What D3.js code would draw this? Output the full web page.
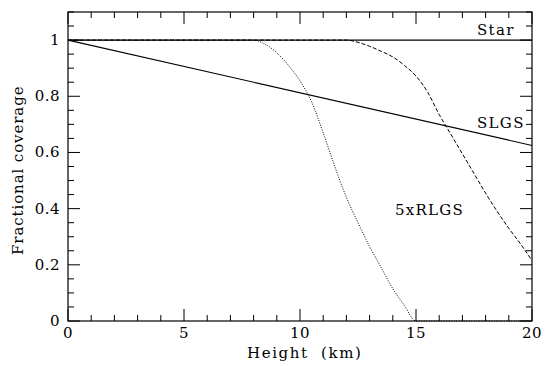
<!DOCTYPE html>
<html><head><meta charset="utf-8">
<script src="https://cdn.jsdelivr.net/npm/d3@7"></script>
<style>body{margin:0;background:#fff}svg{display:block}text{font-family:"DejaVu Serif",serif;fill:#000}</style>
</head><body><div id="c"></div>
<script>
const starX = [0, 20];
const starY = [1, 1];
const slgsX = [0, 20];
const slgsY = [1, 0.625];
const rlgsLowX = [0, 8.0, 8.5, 9.0, 9.5, 10.0, 10.5, 11.0, 11.5, 12.0, 12.5, 13.0, 13.5, 14.0, 14.5, 15.0, 20];
const rlgsLowY = [1, 1.0, 0.985, 0.955, 0.91, 0.855, 0.78, 0.67, 0.55, 0.44, 0.35, 0.265, 0.19, 0.115, 0.055, 0.0, 0.0];
const rlgsHighX = [0, 12.0, 12.5, 13.0, 13.5, 14.0, 14.5, 15.0, 15.5, 16.0, 16.5, 17.0, 17.5, 18.0, 18.5, 19.0, 19.5, 20.0];
const rlgsHighY = [1, 1.0, 0.992, 0.978, 0.96, 0.94, 0.91, 0.872, 0.815, 0.735, 0.665, 0.595, 0.525, 0.455, 0.39, 0.33, 0.275, 0.215];
const xTicks = [0, 5, 10, 15, 20];
const yTicks = [0, 0.2, 0.4, 0.6, 0.8, 1];
const yTickLabels = ["0", "0.2", "0.4", "0.6", "0.8", "1"];
const labels = [
  {text: "Star", x: 17.63, y: 1.018},
  {text: "SLGS", x: 17.63, y: 0.687},
  {text: "5xRLGS", x: 14.09, y: 0.377}
];

const W = 545, H = 366;
const m = {l: 68, r: 13, t: 12, b: 45};
const svg = d3.select("#c").append("svg").attr("width", W).attr("height", H);
const x = d3.scaleLinear().domain([0, 20]).range([m.l, W - m.r]);
const y = d3.scaleLinear().domain([0, 1.1]).range([H - m.b, m.t]);

const g = svg.append("g");
g.append("rect").attr("x", x(0)).attr("y", y(1.1)).attr("width", x(20) - x(0)).attr("height", y(0) - y(1.1))
  .attr("fill", "none").attr("stroke", "#000").attr("stroke-width", 1.2);

const xMinor = d3.range(0, 20.001, 1);
const yMinor = d3.range(0, 1.1001, 0.05);
const isMajX = v => Math.abs(v / 5 - Math.round(v / 5)) < 1e-6;
const isMajY = v => Math.abs(v / 0.2 - Math.round(v / 0.2)) < 1e-6;
const tk = g.append("g").attr("stroke", "#000").attr("stroke-width", 1);
xMinor.forEach(v => {
  const L = isMajX(v) ? 12 : 6;
  tk.append("line").attr("x1", x(v)).attr("x2", x(v)).attr("y1", y(0)).attr("y2", y(0) - L);
  tk.append("line").attr("x1", x(v)).attr("x2", x(v)).attr("y1", y(1.1)).attr("y2", y(1.1) + L);
});
yMinor.forEach(v => {
  const L = isMajY(v) ? 12 : 6;
  tk.append("line").attr("y1", y(v)).attr("y2", y(v)).attr("x1", x(0)).attr("x2", x(0) + L);
  tk.append("line").attr("y1", y(v)).attr("y2", y(v)).attr("x1", x(20)).attr("x2", x(20) - L);
});

g.selectAll(".xl").data(xTicks).enter().append("text")
  .attr("x", d => x(d)).attr("y", y(0) + 17).attr("text-anchor", "middle").attr("font-size", 15)
  .attr("letter-spacing", 0.5).text(d => d);
g.selectAll(".yl").data(yTicks).enter().append("text")
  .attr("x", x(0) - 8).attr("y", d => y(d) + 5).attr("text-anchor", "end").attr("font-size", 15)
  .attr("letter-spacing", 0.5).text((d, i) => yTickLabels[i]);

svg.append("text").attr("x", 247).attr("y", 358).attr("text-anchor", "start")
  .attr("font-size", 15).attr("letter-spacing", 1.6).attr("word-spacing", 6).text("Height (km)");
svg.append("text").attr("transform", `translate(23,255) rotate(-90)`)
  .attr("text-anchor", "start").attr("font-size", 15).attr("letter-spacing", 0.9).text("Fractional coverage");

const line = d3.line().x(d => x(d[0])).y(d => y(d[1])).curve(d3.curveMonotoneX);
const zip = (a, b) => a.map((v, i) => [v, b[i]]);
const cg = svg.append("g").attr("fill", "none");
cg.append("path").attr("d", line(zip(rlgsLowX, rlgsLowY))).attr("stroke", "#000").attr("stroke-width", 1)
  .attr("stroke-dasharray", "1,1.5");
cg.append("path").attr("d", line(zip(rlgsHighX, rlgsHighY))).attr("stroke", "#000").attr("stroke-width", 1)
  .attr("stroke-dasharray", "4,2");
cg.append("path").attr("d", line(zip(starX, starY))).attr("stroke", "#000").attr("stroke-width", 1.1);
cg.append("path").attr("d", line(zip(slgsX, slgsY))).attr("stroke", "#000").attr("stroke-width", 1.1);

svg.selectAll(".cl").data(labels).enter().append("text")
  .attr("x", d => x(d.x)).attr("y", d => y(d.y)).attr("text-anchor", "start").attr("font-size", 15)
  .attr("letter-spacing", 1.3).text(d => d.text);
</script></body></html>
